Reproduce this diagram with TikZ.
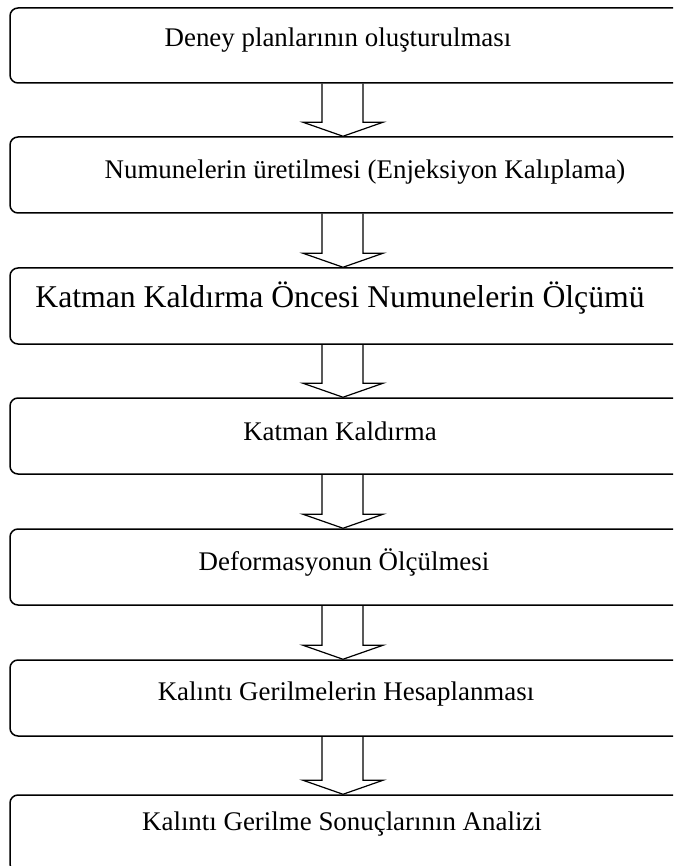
\documentclass[tikz,border=0pt]{standalone}
\usepackage{fontspec}
\setmainfont{Liberation Serif}
\usetikzlibrary{calc}
\tikzset{
  stepbox/.style={draw=black, line width=1.5pt, rounded corners=8pt, rectangle, inner sep=0pt},
  steptext/.style={anchor=base, inner sep=0pt, font=\fontsize{26.9pt}{30pt}\selectfont},
  bigtext/.style={anchor=base, inner sep=0pt, font=\fontsize{31.7pt}{35pt}\selectfont},
  blockarrow/.style={draw=black, line width=1.2pt, line join=miter},
}
% boxes run from x=10 to x=700 (right side cut off by the page edge)
\newcommand{\boxat}[3]{\node[stepbox, minimum width=690pt, minimum height=#3pt-#2pt] (#1) at (355,{(#2+#3)/2}) {};}
% block arrow centred at x=343 (12pt left of box centre)
\newcommand{\blockarr}[2]{\draw[blockarrow] ($(#1.south)+(-33,0)$) -- ($(#2.north)+(-33,-14)$) -- ($(#2.north)+(-52,-14)$) -- ($(#2.north)+(-12,0)$) -- ($(#2.north)+(28,-14)$) -- ($(#2.north)+(8,-14)$) -- ($(#1.south)+(8,0)$);}
\begin{document}
\begin{tikzpicture}[x=1pt, y=-1pt]
\useasboundingbox (0,0) rectangle (673,866);
\clip (0,0) rectangle (673,866);
\boxat{b1}{8}{83}
\boxat{b2}{137}{213}
\boxat{b3}{268}{344}
\boxat{b4}{398}{474}
\boxat{b5}{529}{605}
\boxat{b6}{660}{736}
\boxat{b7}{795}{872}
\node[steptext] (t1) at (338,47) {Deney planlarının oluşturulması};
\node[steptext] (t2) at (365,179) {Numunelerin üretilmesi (Enjeksiyon Kalıplama)};
\node[bigtext] (t3) at (340,307) {Katman Kaldırma Öncesi Numunelerin Ölçümü};
\node[steptext] (t4) at (340,440) {Katman Kaldırma};
\node[steptext] (t5) at (344,570) {Deformasyonun Ölçülmesi};
\node[steptext] (t6) at (346,700) {Kalıntı Gerilmelerin Hesaplanması};
\node[steptext] (t7) at (342,830) {Kalıntı Gerilme Sonuçlarının Analizi};
\blockarr{b1}{b2}
\blockarr{b2}{b3}
\blockarr{b3}{b4}
\blockarr{b4}{b5}
\blockarr{b5}{b6}
\blockarr{b6}{b7}
\end{tikzpicture}
\end{document}
